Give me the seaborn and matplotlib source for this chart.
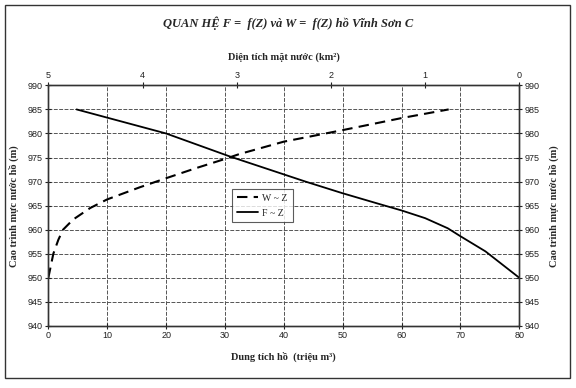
import matplotlib
matplotlib.use("Agg")
import matplotlib.pyplot as plt
import matplotlib.patches as patches
from matplotlib.lines import Line2D
import seaborn as sns
import pandas as pd

# W ~ Z : dung tich ho (trieu m3) theo cao trinh
W_vals = [0, 0.85, 1.7, 2.5, 4.2, 7.1, 10, 15.5, 20, 25.1, 30, 32.4, 40, 50, 60, 68]
W_z = [950, 955, 957.9, 960, 962.1, 964.5, 966.3, 968.8, 970.7, 972.8, 974.7, 975.7, 978.3, 980.7, 983.2, 985]

# F ~ Z : dien tich mat nuoc (km2) theo cao trinh
F_vals = [0, 0.36, 0.63, 0.76, 1.0, 1.25, 1.48, 1.88, 2.27, 3.07, 3.75, 4.70]
F_z = [950, 955.5, 958.7, 960.3, 962.4, 964, 965.3, 967.6, 970, 975.2, 980, 985]

bottom_ticks = list(range(0, 81, 10))
top_ticks = [5, 4, 3, 2, 1, 0]
z_ticks = list(range(940, 991, 5))

df_w = pd.DataFrame({"W": W_vals, "Z": W_z})
df_f = pd.DataFrame({"F": F_vals, "Z": F_z})

sns.set_style("white")
plt.rcParams["font.family"] = ["Liberation Sans", "DejaVu Sans"]
serif = ["Liberation Serif", "DejaVu Serif"]

fig = plt.figure(figsize=(5.76, 3.88), dpi=100)
ax = fig.add_axes([0.0839, 0.160, 0.8177, 0.620])

grid_kw = dict(color="#555555", lw=0.7, dashes=(4, 1.5), zorder=0)
for t in bottom_ticks[1:-1]:
    ax.axvline(t, **grid_kw)
for z in z_ticks[1:-1]:
    ax.axhline(z, **grid_kw)

sns.lineplot(data=df_w, x="W", y="Z", ax=ax, sort=False, color="black",
             lw=1.5, dashes=False, linestyle=(0, (5, 3)))
ax.set_xlim(0, 80)
ax.set_ylim(940, 990)
ax.set_xticks(bottom_ticks)
ax.set_yticks(z_ticks)

ax_top = ax.twiny()
sns.lineplot(data=df_f, x="F", y="Z", ax=ax_top, sort=False, color="black", lw=1.3)
ax_top.set_xlim(5, 0)
ax_top.set_xticks(top_ticks)
ax_top.set_ylim(940, 990)

ax_r = ax.twinx()
ax_r.set_ylim(940, 990)
ax_r.set_yticks(z_ticks)

for a in (ax, ax_top, ax_r):
    for s in a.spines.values():
        s.set_color("#333333")
        s.set_linewidth(0.9)
    a.tick_params(direction="inout", length=4, width=0.8, labelsize=6.5,
                  colors="#222222", pad=2)

ax.set_xlabel("Dung tích hồ  (triệu m³)", family=serif, fontweight="bold",
              fontsize=7.5, labelpad=8)
ax_top.set_xlabel("Diện tích mặt nước (km²)", family=serif, fontweight="bold",
                  fontsize=7.5, labelpad=8)
ax.set_ylabel("Cao trình mực nước hồ (m)", family=serif, fontweight="bold",
              fontsize=7.5, labelpad=6)
ax_r.set_ylabel("Cao trình mực nước hồ (m)", family=serif, fontweight="bold",
                fontsize=7.5, labelpad=6)

fig.text(0.5, 0.94, "QUAN HỆ F =  f(Z) và W =  f(Z) hồ Vĩnh Sơn C",
         ha="center", va="center", family=serif, fontweight="bold",
         style="italic", fontsize=9)

handles = [Line2D([], [], color="black", lw=1.5, linestyle=(0, (5, 3))),
           Line2D([], [], color="black", lw=1.3)]
leg = ax.legend(handles, ["W ~ Z", "F ~ Z"], loc="upper left",
                bbox_to_anchor=(0.38, 0.59), frameon=True, fancybox=False,
                prop={"family": serif, "size": 7}, handlelength=2.2,
                borderpad=0.5, labelspacing=0.6, handletextpad=0.4)
leg.get_frame().set_edgecolor("#333333")
leg.get_frame().set_linewidth(0.8)
leg.set_zorder(5)

fig.patches.append(patches.Rectangle((0.009, 0.026), 0.981, 0.961,
                                     transform=fig.transFigure, fill=False,
                                     edgecolor="#333333", lw=1.0))

fig.savefig("out.png", dpi=100)
